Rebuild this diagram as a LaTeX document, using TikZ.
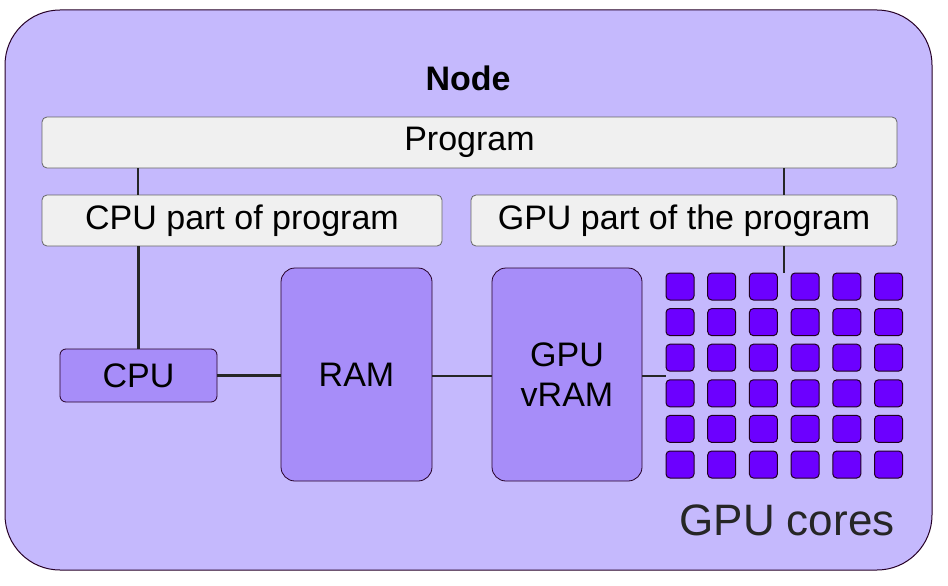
\documentclass[tikz,border=0pt]{standalone}
\usepackage{fontspec}
\setmainfont{Liberation Sans}
\begin{document}
\begin{tikzpicture}[x=1pt,y=-1pt,
  box/.style={draw=gray!80!black,fill=black!6,rounded corners=5pt,line width=0.8pt},
  hw/.style={draw=black!70!violet,fill=hwfill,rounded corners=14pt,line width=0.8pt},
  core/.style={draw=black!75!violet,fill=corefill,rounded corners=4pt,line width=1pt,minimum width=28pt,minimum height=27pt,inner sep=0pt},
  wire/.style={line width=2.4pt,draw=black!85},
  lbl/.style={font=\fontsize{34}{40}\selectfont}]
\definecolor{outerfill}{HTML}{C5B9FD}
\definecolor{hwfill}{HTML}{A78DF9}
\definecolor{corefill}{HTML}{6C00FF}
\useasboundingbox (0,0) rectangle (948,586);
\draw[fill=outerfill,draw=black!70!violet,line width=1pt,rounded corners=55pt] (5,10) rectangle (932,570);
\node[font=\fontsize{34}{36}\selectfont\bfseries] (title) at (468,78) {Node};
\node[box,lbl,minimum width=855pt,minimum height=51pt] (prog) at (469.5,142.5) {Program};
\node[box,lbl,minimum width=400pt,minimum height=51pt] (cpup) at (242,220.5) {CPU part of program};
\node[box,lbl,minimum width=426pt,minimum height=51pt] (gpup) at (684,220.5) {GPU part of the program};
\node[hw,lbl,rounded corners=6pt,minimum width=157pt,minimum height=53pt] (cpu) at (138.5,375.5) {CPU};
\node[hw,lbl,minimum width=151pt,minimum height=213pt] (ram) at (356.5,374.5) {RAM};
\node[hw,lbl,minimum width=150pt,minimum height=213pt,align=center] (vram) at (567,374.5) {GPU\\vRAM};
\foreach \r in {0,...,5}{\foreach \c in {0,...,5}{
  \node[core] (c\r\c) at (680+41.7*\c,286.5+35.6*\r) {};}}
\coordinate (coresL) at (666,376);
\coordinate (coresT) at (784,273);
\node[font=\fontsize{44}{46}\selectfont,text=black!85] (gcl) at (787,520) {GPU cores};
\draw[wire] (prog.south -| 138,0) -- (cpup.north -| 138,0);
\draw[wire] (cpup.south -| cpu.north) -- (cpu.north);
\draw[wire] (prog.south -| coresT) -- (gpup.north -| coresT);
\draw[wire] (gpup.south -| coresT) -- (coresT);
\draw[wire] (cpu.east) -- (cpu.east -| ram.west);
\draw[wire] (ram.east |- 0,376) -- (vram.west |- 0,376);
\draw[wire] (vram.east |- coresL) -- (coresL);
\end{tikzpicture}
\end{document}
